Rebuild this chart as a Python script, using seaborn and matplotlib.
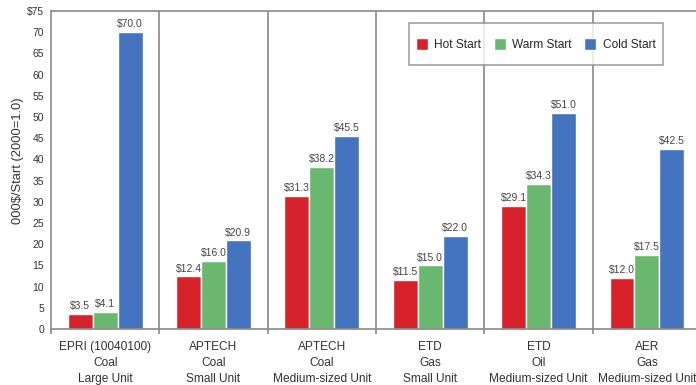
import pandas as pd
import seaborn as sns
import matplotlib.pyplot as plt
from matplotlib.patches import Rectangle
from matplotlib.legend_handler import HandlerPatch

units = ["EPRI (10040100)\nCoal\nLarge Unit", "APTECH\nCoal\nSmall Unit",
         "APTECH\nCoal\nMedium-sized Unit", "ETD\nGas\nSmall Unit",
         "ETD\nOil\nMedium-sized Unit", "AER\nGas\nMedium-sized Unit"]
starts = ["Hot Start", "Warm Start", "Cold Start"]
hot = [3.5, 12.4, 31.3, 11.5, 29.1, 12.0]
warm = [4.1, 16.0, 38.2, 15.0, 34.3, 17.5]
cold = [70.0, 20.9, 45.5, 22.0, 51.0, 42.5]
colors = ["#d7212b", "#6ab870", "#4473c0"]
yticks = list(range(0, 80, 5))
ytick_labels = [str(t) for t in yticks[:-1]] + ["$75"]

df = pd.DataFrame({
    "unit": units * 3,
    "start": [s for s in starts for _ in units],
    "value": hot + warm + cold,
})

sns.set_style("white")
plt.rcParams['font.family'] = ['Liberation Sans', 'DejaVu Sans']

fig = plt.figure(figsize=(6.96, 3.85), dpi=100)
ax = fig.add_axes([0.0733, 0.1455, 0.934, 0.826])

sns.barplot(data=df, x="unit", y="value", hue="start", palette=colors,
            width=0.69, saturation=1, ax=ax, errorbar=None)

for c in ax.containers:
    ax.bar_label(c, fmt="${:.1f}", fontsize=7.5, color="#444444", padding=2)

ax.set_ylim(0, 75)
ax.set_xlim(-0.5, len(units) - 0.5)
ax.set_yticks(yticks)
ax.set_yticklabels(ytick_labels, fontsize=7.5, color="#333333")
ax.tick_params(axis="both", length=0, pad=5)
ax.tick_params(axis="x", pad=9)
ax.set_xticks(range(len(units)))
ax.set_xticklabels(units, fontsize=8.6, color="#333333", linespacing=1.4)
ax.set_xlabel("")
ax.set_ylabel("000$/Start (2000=1.0)", fontsize=9.3, color="#333333")
ax.yaxis.set_label_coords(-0.041, 0.53)

for s in ax.spines.values():
    s.set_color("#8a8a8a")
    s.set_linewidth(1.2)
ax.spines["right"].set_visible(False)

for i in range(1, len(units)):
    ax.vlines(i - 0.5, -1.3, 75, color="#8a8a8a", lw=1.2, clip_on=False)
ax.vlines(-0.5, -1.3, 0, color="#8a8a8a", lw=1.2, clip_on=False)


# square swatch centred in a taller handle box
def square(legend, orig_handle, xdescent, ydescent, width, height, fontsize):
    return Rectangle((-xdescent, -ydescent + (height - width) / 2), width, width)


leg = ax.legend(loc="upper right", bbox_to_anchor=(0.9415, 0.962), ncol=3,
                frameon=True, fancybox=False, fontsize=8.6, handlelength=1.0,
                handleheight=3.2, handletextpad=0.55, columnspacing=1.05,
                borderpad=0.6, borderaxespad=0, title=None,
                handler_map={Rectangle: HandlerPatch(patch_func=square)})
leg.get_frame().set_edgecolor("#8a8a8a")
leg.get_frame().set_linewidth(1.2)

fig.savefig("out.png", dpi=100)
